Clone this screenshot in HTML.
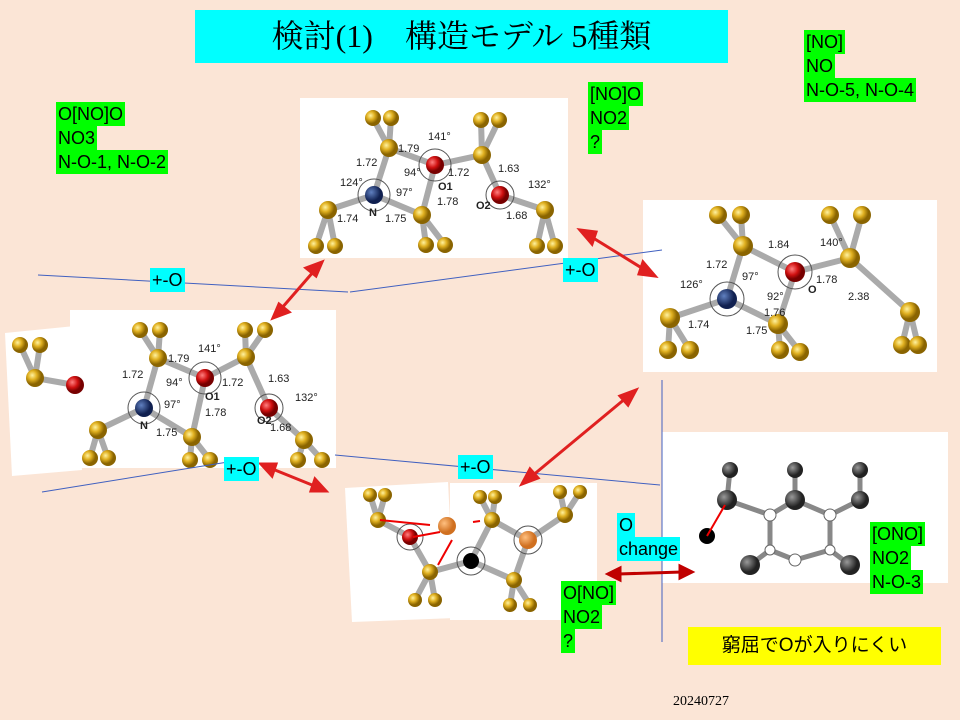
<!DOCTYPE html>
<html><head><meta charset="utf-8"><style>
body{margin:0;width:960px;height:720px;background:#fbe5d6;position:relative;overflow:hidden;font-family:"Liberation Sans","Noto Sans CJK JP",sans-serif}
.t{position:absolute;font-size:18px;line-height:24px;color:#000}
.g span{background:#00ff00}
.c span{background:#00ffff}
.t span{display:inline-block;padding:0 2px}
</style></head><body>
<div style="position:absolute;left:195px;top:10px;width:533px;height:53px;background:#00ffff;font-family:'Liberation Serif','Noto Serif CJK SC',serif;font-size:32px;line-height:53px;text-align:center">検討(1)　構造モデル  5種類</div>
<svg width="960" height="720" style="position:absolute;left:0;top:0">
<defs>
<radialGradient id="au" cx="35%" cy="35%"><stop offset="0" stop-color="#fff2a0"/><stop offset=".5" stop-color="#e0b020"/><stop offset="1" stop-color="#8a6400"/></radialGradient>
<radialGradient id="re" cx="35%" cy="35%"><stop offset="0" stop-color="#ff8080"/><stop offset=".6" stop-color="#d01010"/><stop offset="1" stop-color="#700"/></radialGradient>
<radialGradient id="bl" cx="35%" cy="35%"><stop offset="0" stop-color="#6080c0"/><stop offset="1" stop-color="#102050"/></radialGradient>
<radialGradient id="or" cx="35%" cy="35%"><stop offset="0" stop-color="#ffc080"/><stop offset="1" stop-color="#d07020"/></radialGradient>
<radialGradient id="dk" cx="35%" cy="35%"><stop offset="0" stop-color="#999"/><stop offset="1" stop-color="#222"/></radialGradient>
</defs>
<g fill="#fff">
<rect x="300" y="98" width="268" height="160"/>
<rect x="643" y="200" width="294" height="172"/>
<rect x="70" y="310" width="266" height="158"/>
<polygon points="5,333 75,326 82,470 12,476"/>
<polygon points="345,488 448,482 455,618 352,622"/>
<rect x="450" y="483" width="147" height="137"/>
<rect x="662" y="432" width="286" height="151"/>
</g>
<g stroke="#aaa" stroke-width="6" stroke-linecap="round" fill="none">
<path d="M374,195L389,148L435,165L482,155L500,195L545,210M374,195L328,210M374,195L422,215L435,165M389,148L373,118M389,148L391,118M482,155L481,120M482,155L499,120M328,210L316,246M328,210L335,246M422,215L426,245M422,215L445,245M545,210L537,246M545,210L555,246"/>
<path d="M727,299L743,246L795,272L850,258L910,312M727,299L670,318M727,299L778,324L795,272M743,246L718,215M743,246L741,215M850,258L830,215M850,258L862,215M670,318L668,350M670,318L690,350M778,324L780,350M778,324L800,352M910,312L902,345M910,312L918,345"/>
<path d="M144,408L158,358L205,378L246,357L269,408L304,440M144,408L98,430M144,408L192,437L205,378M158,358L140,330M158,358L160,330M246,357L245,330M246,357L265,330M98,430L90,458M98,430L108,458M192,437L190,460M192,437L210,460M304,440L298,460M304,440L322,460M75,385L35,378L20,345M35,378L40,345"/>
<path d="M471,561L492,520L528,540L565,515M471,561L514,580L528,540M471,561L430,572L410,537L378,520M492,520L480,497M492,520L495,497M565,515L560,492M565,515L580,492M514,580L510,605M514,580L530,605M430,572L415,600M430,572L435,600M378,520L370,495M378,520L385,495"/>
</g>
<g fill="none" stroke="#555" stroke-width="1">
<circle cx="435" cy="165" r="16"/><circle cx="374" cy="195" r="16"/><circle cx="500" cy="195" r="14"/>
<circle cx="795" cy="272" r="17"/><circle cx="727" cy="299" r="17"/>
<circle cx="205" cy="378" r="16"/><circle cx="144" cy="408" r="16"/><circle cx="269" cy="408" r="14"/>
<circle cx="471" cy="561" r="14"/><circle cx="528" cy="540" r="14"/><circle cx="410" cy="537" r="13"/>
</g>
<g fill="url(#au)">
<circle cx="389" cy="148" r="9"/><circle cx="482" cy="155" r="9"/><circle cx="328" cy="210" r="9"/><circle cx="422" cy="215" r="9"/><circle cx="545" cy="210" r="9"/>
<circle cx="373" cy="118" r="8"/><circle cx="391" cy="118" r="8"/><circle cx="481" cy="120" r="8"/><circle cx="499" cy="120" r="8"/><circle cx="316" cy="246" r="8"/><circle cx="335" cy="246" r="8"/><circle cx="426" cy="245" r="8"/><circle cx="445" cy="245" r="8"/><circle cx="537" cy="246" r="8"/><circle cx="555" cy="246" r="8"/>
<circle cx="743" cy="246" r="10"/><circle cx="850" cy="258" r="10"/><circle cx="670" cy="318" r="10"/><circle cx="778" cy="324" r="10"/><circle cx="910" cy="312" r="10"/>
<circle cx="718" cy="215" r="9"/><circle cx="741" cy="215" r="9"/><circle cx="830" cy="215" r="9"/><circle cx="862" cy="215" r="9"/><circle cx="668" cy="350" r="9"/><circle cx="690" cy="350" r="9"/><circle cx="780" cy="350" r="9"/><circle cx="800" cy="352" r="9"/><circle cx="902" cy="345" r="9"/><circle cx="918" cy="345" r="9"/>
<circle cx="158" cy="358" r="9"/><circle cx="246" cy="357" r="9"/><circle cx="98" cy="430" r="9"/><circle cx="192" cy="437" r="9"/><circle cx="304" cy="440" r="9"/><circle cx="35" cy="378" r="9"/>
<circle cx="140" cy="330" r="8"/><circle cx="160" cy="330" r="8"/><circle cx="245" cy="330" r="8"/><circle cx="265" cy="330" r="8"/><circle cx="90" cy="458" r="8"/><circle cx="108" cy="458" r="8"/><circle cx="190" cy="460" r="8"/><circle cx="210" cy="460" r="8"/><circle cx="298" cy="460" r="8"/><circle cx="322" cy="460" r="8"/><circle cx="20" cy="345" r="8"/><circle cx="40" cy="345" r="8"/>
<circle cx="492" cy="520" r="8"/><circle cx="565" cy="515" r="8"/><circle cx="514" cy="580" r="8"/><circle cx="430" cy="572" r="8"/><circle cx="378" cy="520" r="8"/>
<circle cx="480" cy="497" r="7"/><circle cx="495" cy="497" r="7"/><circle cx="560" cy="492" r="7"/><circle cx="580" cy="492" r="7"/><circle cx="510" cy="605" r="7"/><circle cx="530" cy="605" r="7"/><circle cx="415" cy="600" r="7"/><circle cx="435" cy="600" r="7"/><circle cx="370" cy="495" r="7"/><circle cx="385" cy="495" r="7"/>
</g>
<circle cx="374" cy="195" r="9" fill="url(#bl)"/><circle cx="435" cy="165" r="9" fill="url(#re)"/><circle cx="500" cy="195" r="9" fill="url(#re)"/>
<circle cx="727" cy="299" r="10" fill="url(#bl)"/><circle cx="795" cy="272" r="10" fill="url(#re)"/>
<circle cx="144" cy="408" r="9" fill="url(#bl)"/><circle cx="205" cy="378" r="9" fill="url(#re)"/><circle cx="269" cy="408" r="9" fill="url(#re)"/><circle cx="75" cy="385" r="9" fill="url(#re)"/>
<circle cx="471" cy="561" r="8" fill="#000"/><circle cx="447" cy="526" r="9" fill="url(#or)"/><circle cx="528" cy="540" r="9" fill="url(#or)"/><circle cx="410" cy="537" r="8" fill="url(#re)"/>
<path d="M380,520L430,525M413,537L440,532M452,540L438,565M473,522L480,521" stroke="#e00" stroke-width="2" fill="none"/>
<g stroke="#888" stroke-width="5" fill="none"><path d="M727,500L770,515L795,500L830,515L860,500M770,515L770,550L795,560L830,550L830,515M770,550L750,565M830,550L850,565M727,500L730,470M795,500L795,470M860,500L860,470"/></g>
<g fill="url(#dk)"><circle cx="727" cy="500" r="10"/><circle cx="795" cy="500" r="10"/><circle cx="860" cy="500" r="9"/><circle cx="750" cy="565" r="10"/><circle cx="850" cy="565" r="10"/><circle cx="730" cy="470" r="8"/><circle cx="795" cy="470" r="8"/><circle cx="860" cy="470" r="8"/></g>
<circle cx="707" cy="536" r="8" fill="#000"/>
<g fill="#fff" stroke="#666"><circle cx="770" cy="515" r="6"/><circle cx="830" cy="515" r="6"/><circle cx="770" cy="550" r="5"/><circle cx="830" cy="550" r="5"/><circle cx="795" cy="560" r="6"/></g>
<path d="M707,536L725,505" stroke="#e00" stroke-width="2" fill="none"/>
<g font-size="11" fill="#222">
<text x="398" y="152">1.79</text><text x="428" y="140">141°</text><text x="356" y="166">1.72</text><text x="404" y="176">94°</text><text x="448" y="176">1.72</text><text x="498" y="172">1.63</text><text x="340" y="186">124°</text><text x="396" y="196">97°</text><text x="438" y="190" font-weight="bold">O1</text><text x="437" y="205">1.78</text><text x="528" y="188">132°</text><text x="476" y="209" font-weight="bold">O2</text><text x="506" y="219">1.68</text><text x="337" y="222">1.74</text><text x="369" y="216" font-weight="bold">N</text><text x="385" y="222">1.75</text>
<text x="768" y="248">1.84</text><text x="820" y="246">140°</text><text x="706" y="268">1.72</text><text x="742" y="280">97°</text><text x="680" y="288">126°</text><text x="767" y="300">92°</text><text x="808" y="293" font-weight="bold">O</text><text x="816" y="283">1.78</text><text x="848" y="300">2.38</text><text x="764" y="316">1.76</text><text x="688" y="328">1.74</text><text x="746" y="334">1.75</text>
<text x="168" y="362">1.79</text><text x="198" y="352">141°</text><text x="122" y="378">1.72</text><text x="166" y="386">94°</text><text x="222" y="386">1.72</text><text x="268" y="382">1.63</text><text x="164" y="408">97°</text><text x="205" y="400" font-weight="bold">O1</text><text x="205" y="416">1.78</text><text x="295" y="401">132°</text><text x="257" y="424" font-weight="bold">O2</text><text x="270" y="431">1.68</text><text x="140" y="429" font-weight="bold">N</text><text x="156" y="436">1.75</text>
</g>
<g stroke="#4060c0" stroke-width="1" fill="none">
<path d="M38,275L348,292M350,292L662,250M42,492L228,462M335,455L660,485M662,380L662,642"/>
</g>
<g stroke="#e02020" stroke-width="3" fill="#e02020">
<path d="M314,271L281,309"/><polygon points="322,262 306,268 316,276"/><polygon points="273,318 289,312 279,304"/>
<path d="M590,236L645,270"/><polygon points="580,230 592,244 596,232"/><polygon points="655,276 643,262 639,274"/>
<path d="M626,398L532,476"/><polygon points="636,390 620,396 628,405"/><polygon points="522,484 538,478 530,469"/>
<path d="M270,468L317,487"/><polygon points="261,464 272,476 276,464"/><polygon points="326,491 315,479 311,491"/>
</g>
<g stroke="#c00000" stroke-width="3" fill="#c00000"><path d="M618,574L682,572"/><polygon points="608,574 620,568 620,580"/><polygon points="692,572 680,566 680,578"/></g>
</svg>
<div class="t g" style="left:56px;top:102px"><span>O[NO]O</span><br><span>NO3</span><br><span>N-O-1, N-O-2</span></div>
<div class="t g" style="left:588px;top:82px"><span>[NO]O</span><br><span>NO2</span><br><span>?</span></div>
<div class="t g" style="left:804px;top:30px"><span>[NO]</span><br><span>NO</span><br><span>N-O-5, N-O-4</span></div>
<div class="t g" style="left:870px;top:522px"><span>[ONO]</span><br><span>NO2</span><br><span>N-O-3</span></div>
<div class="t g" style="left:561px;top:581px"><span>O[NO]</span><br><span>NO2</span><br><span>?</span></div>
<div class="t c" style="left:150px;top:268px"><span>+-O</span></div>
<div class="t c" style="left:563px;top:258px"><span>+-O</span></div>
<div class="t c" style="left:224px;top:457px"><span>+-O</span></div>
<div class="t c" style="left:458px;top:455px"><span>+-O</span></div>
<div class="t c" style="left:617px;top:513px"><span>O</span><br><span>change</span></div>
<div style="position:absolute;left:688px;top:627px;width:253px;height:38px;background:#ffff00;font-size:19px;line-height:38px;text-align:center">窮屈でOが入りにくい</div>
<div style="position:absolute;left:673px;top:694px;font-family:'Liberation Serif',serif;font-size:14px">20240727</div>
</body></html>
